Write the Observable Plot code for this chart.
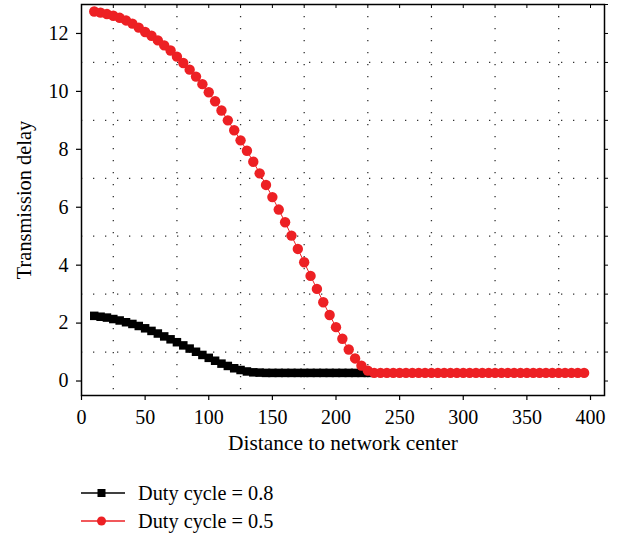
<!DOCTYPE html>
<html><head><meta charset="utf-8">
<script src="https://cdn.jsdelivr.net/npm/d3@7"></script>
<script src="https://cdn.jsdelivr.net/npm/@observablehq/plot@0.6"></script>
<style>
body{margin:0;background:#fff;font-family:"Liberation Serif",serif;}
#legend{margin-top:14px;padding-left:80px;}
.item{height:28px;display:flex;align-items:center;font-size:20.3px;color:#000;}
.item svg{margin-right:12px;}
</style></head><body>
<div id="chart"></div>
<div id="legend"></div>
<script>
const seriesNames = ["Duty cycle = 0.8", "Duty cycle = 0.5"];
const seriesColors = ["#000000", "#ed2024"];
const distance08 = [10,15,20,25,30,35,40,45,50,55,60,65,70,75,80,85,90,95,100,105,110,115,120,125,130,135,140,145,150,155,160,165,170,175,180,185,190,195,200,205,210,215,220,225];
const delay08 = [2.25,2.22,2.19,2.14,2.09,2.03,1.97,1.90,1.82,1.73,1.64,1.54,1.44,1.34,1.23,1.12,1.01,0.90,0.80,0.70,0.60,0.52,0.44,0.38,0.33,0.30,0.29,0.28,0.28,0.28,0.28,0.28,0.28,0.28,0.28,0.28,0.28,0.28,0.28,0.28,0.28,0.28,0.28,0.28];
const distance05 = [10,15,20,25,30,35,40,45,50,55,60,65,70,75,80,85,90,95,100,105,110,115,120,125,130,135,140,145,150,155,160,165,170,175,180,185,190,195,200,205,210,215,220,225,230,235,240,245,250,255,260,265,270,275,280,285,290,295,300,305,310,315,320,325,330,335,340,345,350,355,360,365,370,375,380,385,390,395];
const delay05 = [12.76,12.72,12.67,12.61,12.54,12.45,12.34,12.20,12.05,11.92,11.76,11.59,11.41,11.20,10.98,10.75,10.51,10.25,9.97,9.66,9.34,9.00,8.66,8.31,7.95,7.57,7.17,6.77,6.35,5.92,5.48,5.02,4.56,4.10,3.63,3.18,2.72,2.28,1.86,1.46,1.09,0.78,0.53,0.36,0.28,0.28,0.28,0.28,0.28,0.28,0.28,0.28,0.28,0.28,0.28,0.28,0.28,0.28,0.28,0.28,0.28,0.28,0.28,0.28,0.28,0.28,0.28,0.28,0.28,0.28,0.28,0.28,0.28,0.28,0.28,0.28,0.28,0.28];
const xTicks = [0,50,100,150,200,250,300,350,400];
const yTicks = [0,2,4,6,8,10,12];
const xGrid = [25,75,125,175,225,275,325,375];
const yGrid = [1,3,5,7,9,11];
const xMinor = [0,25,50,75,100,125,150,175,200,225,250,275,300,325,350,375,400];
const yMinor = [0,1,2,3,4,5,6,7,8,9,10,11,12,13];
const xLabel = "Distance to network center";
const yLabel = "Transmission delay";

const s08 = distance08.map((d, i) => ({x: d, y: delay08[i]}));
const s05 = distance05.map((d, i) => ({x: d, y: delay05[i]}));
const dotted = {stroke: "#000", strokeOpacity: 0.8, strokeWidth: 1.3, strokeDasharray: "1.3,10.7"};

const chart = Plot.plot({
  width: 620, height: 465,
  marginLeft: 81, marginRight: 16, marginTop: 4, marginBottom: 70,
  style: {fontFamily: "Liberation Serif, serif", fontSize: "20px", color: "#000", background: "#fff"},
  x: {domain: [0, 411]},
  y: {domain: [-0.5, 13]},
  marks: [
    Plot.gridX(xGrid, dotted),
    Plot.gridY(yGrid, dotted),
    Plot.axisX(xTicks, {anchor: "bottom", tickSize: 5, tickPadding: 9, label: null, strokeWidth: 1.2}),
    Plot.axisY(yTicks, {anchor: "left", tickSize: 5, tickPadding: 8, label: null, strokeWidth: 1.2}),
    Plot.axisX(xMinor, {anchor: "top", tickSize: -3, tickFormat: () => "", label: null}),
    Plot.axisY(yMinor, {anchor: "right", tickSize: 3, tickFormat: () => "", label: null}),
    Plot.text([xLabel], {frameAnchor: "bottom", textAnchor: "middle", dy: 54, fontSize: 21.4}),
    Plot.text([yLabel], {frameAnchor: "left", textAnchor: "middle", dx: -57, rotate: -90, fontSize: 20.4}),
    Plot.line(s08, {x: "x", y: "y", stroke: seriesColors[0], strokeWidth: 1}),
    Plot.dot(s08, {x: "x", y: "y", symbol: "square", r: 4.8, fill: seriesColors[0], stroke: "none"}),
    Plot.line(s05, {x: "x", y: "y", stroke: seriesColors[1], strokeWidth: 1}),
    Plot.dot(s05, {x: "x", y: "y", symbol: "circle", r: 5.2, fill: seriesColors[1], stroke: "none"}),
    Plot.frame({stroke: "#000", strokeWidth: 1.5})
  ]
});
document.getElementById("chart").append(chart);

const legend = d3.select("#legend");
seriesNames.forEach((name, i) => {
  const item = legend.append("div").attr("class", "item");
  const svg = item.append("svg").attr("width", 46).attr("height", 14);
  svg.append("line").attr("x1", 1).attr("x2", 45).attr("y1", 7).attr("y2", 7)
    .attr("stroke", seriesColors[i]).attr("stroke-width", 1.3);
  if (i === 0) {
    svg.append("rect").attr("x", 17.5).attr("y", 3).attr("width", 8).attr("height", 8).attr("fill", seriesColors[i]);
  } else {
    svg.append("circle").attr("cx", 21.5).attr("cy", 7).attr("r", 4.5).attr("fill", seriesColors[i]);
  }
  item.append("span").text(name);
});
</script>
</body></html>
